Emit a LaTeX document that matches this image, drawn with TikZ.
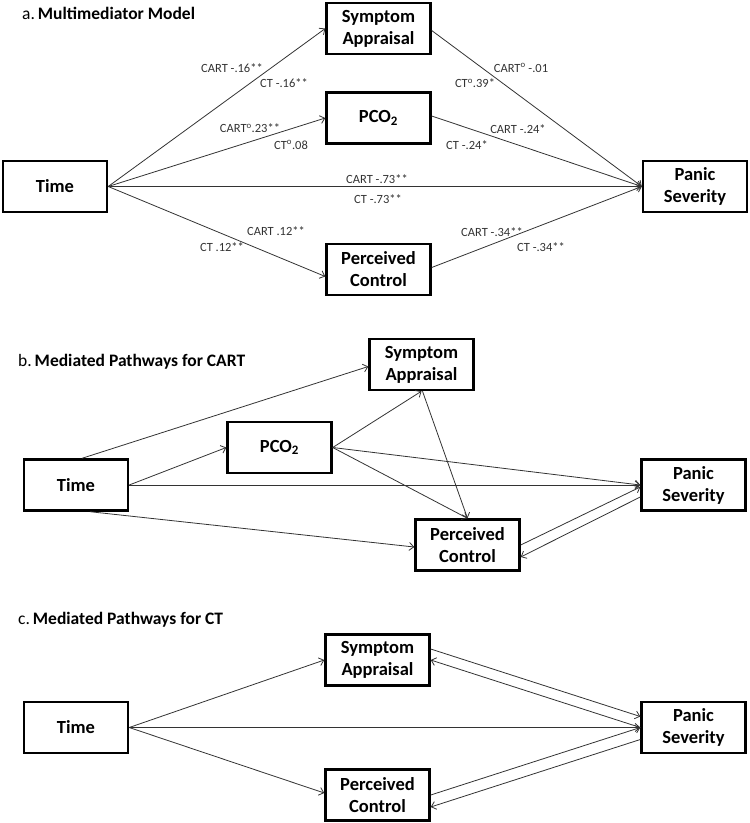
\documentclass[tikz,border=0pt]{standalone}
\usepackage{fontspec}
\setmainfont{Carlito}
\usetikzlibrary{arrows.meta}
\begin{document}
\begin{tikzpicture}[x=1pt,y=-1pt,
  box/.style={draw=black,line width=2.4pt,minimum width=104pt,minimum height=51pt,inner sep=0pt,align=center,font=\fontsize{18.5}{22}\selectfont\bfseries},
  conn/.style={draw=black!80,line width=0.8pt,-{Straight Barb[length=4.5pt,width=8pt]}},
  lbl/.style={font=\fontsize{12.5}{14}\selectfont,text=black!80,inner sep=0pt},
  ttl/.style={anchor=west,inner sep=0pt,font=\fontsize{17.5}{20}\selectfont}]
\useasboundingbox (0,0) rectangle (750,823);
% ---------- panel a ----------
\node[ttl] (ta) at (22,13) {a.\,\textbf{Multimediator Model}};
\node[box] (time) at (55,186.5) {Time};
\node[box] (sa) at (378.5,28.5) {Symptom\\Appraisal};
\node[box] (pco) at (378.5,118) {PCO\textsubscript{2}};
\node[box] (pc) at (378.5,269.5) {Perceived\\Control};
\node[box] (ps) at (695,186.5) {Panic\\Severity};
\draw[conn] (time.east) -- (sa.west);
\draw[conn] (time.east) -- (pco.west);
\draw[conn] (time.east) -- (ps.west);
\draw[conn] (time.east) -- ([yshift=-7pt]pc.west);
\draw[conn] ([yshift=-2pt]sa.east) -- (ps.west);
\draw[conn] ([yshift=2pt]pco.east) -- (ps.west);
\draw[conn] ([yshift=2pt]pc.east) -- (ps.west);
\node[lbl] (l1) at (232,68) {CART -.16**};
\node[lbl] (l2) at (284,83) {CT -.16**};
\node[lbl] (l3) at (250,128) {CART\textsuperscript{o}.23**};
\node[lbl] (l4) at (291,145) {CT\textsuperscript{o}.08};
\node[lbl] (l5) at (377,179) {CART -.73**};
\node[lbl] (l6) at (378,199) {CT -.73**};
\node[lbl] (l7) at (276,231) {CART .12**};
\node[lbl] (l8) at (222,247) {CT .12**};
\node[lbl] (l9) at (521,68) {CART\textsuperscript{o} -.01};
\node[lbl] (l10) at (475,83) {CT\textsuperscript{o}.39*};
\node[lbl] (l11) at (518,129) {CART -.24*};
\node[lbl] (l12) at (467,145) {CT -.24*};
\node[lbl] (l13) at (492,232) {CART -.34**};
\node[lbl] (l14) at (541,247) {CT -.34**};
% ---------- panel b ----------
\node[ttl] (tb) at (18,362) {b.\,\textbf{Mediated Pathways for CART}};
\node[box] (timeb) at (76,485) {Time};
\node[box] (pcob) at (279.5,447.5) {PCO\textsubscript{2}};
\node[box] (sab) at (421.5,364.5) {Symptom\\Appraisal};
\node[box] (pcb) at (467.5,545) {Perceived\\Control};
\node[box] (psb) at (693.5,485) {Panic\\Severity};
\draw[conn] ([xshift=6pt]timeb.north) -- ([yshift=-2pt]sab.west);
\draw[conn] (timeb.east) -- (pcob.west);
\draw[conn] (timeb.east) -- (psb.west);
\draw[conn] ([xshift=14pt]timeb.south) -- ([yshift=-2pt]pcb.west);
\draw[conn] (pcob.east) -- (sab.south);
\draw[conn] (pcob.east) -- (psb.west);
\draw[conn] (pcob.east) -- (pcb.north);
\draw[conn] ([xshift=1pt]sab.south) -- (pcb.north);
\draw[conn] (pcb.east) -- ([yshift=-2pt]psb.west);
\draw[conn] ([yshift=-12pt]psb.west) -- ([yshift=-12pt]pcb.east);
% ---------- panel c ----------
\node[ttl] (tc) at (18,620) {c.\,\textbf{Mediated Pathways for CT}};
\node[box] (timec) at (76,727.5) {Time};
\node[box] (sac) at (377.5,660) {Symptom\\Appraisal};
\node[box] (pcc) at (377.5,795) {Perceived\\Control};
\node[box] (psc) at (693.5,727.5) {Panic\\Severity};
\draw[conn] (timec.east) -- (sac.west);
\draw[conn] (timec.east) -- (psc.west);
\draw[conn] (timec.east) -- ([yshift=2pt]pcc.west);
\draw[conn] ([yshift=11pt]sac.east) -- ([yshift=11pt]psc.west);
\draw[conn] (psc.west) -- (sac.east);
\draw[conn] (pcc.east) -- (psc.west);
\draw[conn] ([yshift=-12pt]psc.west) -- ([yshift=-12pt]pcc.east);
\end{tikzpicture}
\end{document}
